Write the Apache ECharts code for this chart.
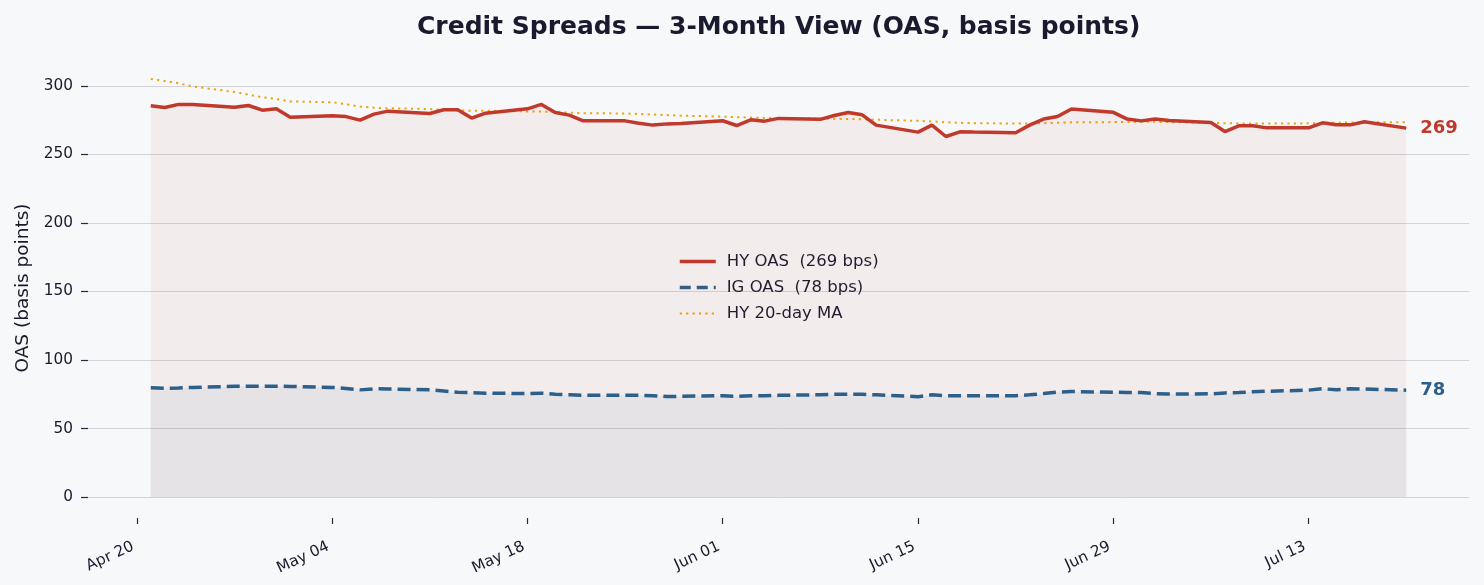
<!DOCTYPE html>
<html>
<head>
<meta charset="utf-8">
<title>Credit Spreads</title>
<script src="https://cdn.jsdelivr.net/npm/echarts@6/dist/echarts.min.js"></script>
<style>
  html, body { margin: 0; padding: 0; background: #f7f8fa; }
  #chart { width: 1484px; height: 585px; }
</style>
</head>
<body>
<div id="chart"></div>
<script>
// 交易日（工作日）
var dates = ['2026-04-21','2026-04-22','2026-04-23','2026-04-24','2026-04-27','2026-04-28','2026-04-29','2026-04-30','2026-05-01',
  '2026-05-04','2026-05-05','2026-05-06','2026-05-07','2026-05-08',
  '2026-05-11','2026-05-12','2026-05-13','2026-05-14','2026-05-15',
  '2026-05-18','2026-05-19','2026-05-20','2026-05-21','2026-05-22',
  '2026-05-25','2026-05-26','2026-05-27','2026-05-28','2026-05-29',
  '2026-06-01','2026-06-02','2026-06-03','2026-06-04','2026-06-05',
  '2026-06-08','2026-06-09','2026-06-10','2026-06-11','2026-06-12',
  '2026-06-15','2026-06-16','2026-06-17','2026-06-18','2026-06-19',
  '2026-06-22','2026-06-23','2026-06-24','2026-06-25','2026-06-26',
  '2026-06-29','2026-06-30','2026-07-01','2026-07-02','2026-07-03',
  '2026-07-06','2026-07-07','2026-07-08','2026-07-09','2026-07-10',
  '2026-07-13','2026-07-14','2026-07-15','2026-07-16','2026-07-17',
  '2026-07-20'];

// HY OAS
var hyOas = [285.4, 284.2, 286.4, 286.4, 284.4, 285.6, 282.2, 283.2, 277.1,
  278.1, 277.5, 274.9, 279.3, 281.5,
  279.8, 282.5, 282.5, 276.4, 280.0,
  283.2, 286.4, 280.5, 278.6, 274.4,
  274.4, 272.7, 271.3, 272.2, 272.4,
  274.5, 271.0, 275.2, 274.2, 276.2,
  275.5, 278.3, 280.5, 278.8, 271.3,
  266.2, 271.3, 263.0, 266.4, 266.2,
  265.7, 271.3, 275.7, 277.6, 283.0,
  280.6, 275.7, 274.4, 275.7, 274.7,
  273.2, 266.6, 270.8, 270.8, 269.3,
  269.3, 273.0, 271.5, 271.5, 273.7,
  269.1];

// IG OAS
var igOas = [79.8, 79.3, 79.6, 80.0, 80.8, 80.9, 80.9, 80.9, 80.7,
  80.0, 79.2, 78.2, 79.0, 78.9,
  78.2, 77.4, 76.5, 76.2, 75.8,
  75.5, 75.8, 75.0, 74.6, 74.2,
  74.2, 74.2, 74.0, 73.3, 73.5,
  74.0, 73.5, 74.0, 74.0, 74.2,
  74.6, 75.0, 75.0, 75.0, 74.6,
  73.2, 74.6, 74.0, 74.0, 74.0,
  74.0, 74.6, 75.5, 76.6, 77.0,
  76.5, 76.3, 76.3, 75.4, 75.2,
  75.3, 76.0, 76.2, 76.8, 77.2,
  78.0, 79.0, 78.3, 79.0, 78.8,
  78.0];

// HY 20日均线
var hyMa = [305.0, 303.5, 301.8, 299.5, 295.5, 293.5, 291.6, 290.3, 288.6,
  288.0, 286.5, 284.8, 284.0, 283.6,
  283.0, 282.4, 282.0, 281.8, 281.8,
  281.3, 281.2, 280.8, 280.4, 280.0,
  279.8, 279.4, 279.0, 278.6, 278.2,
  277.5, 277.1, 276.8, 276.5, 276.3,
  276.0, 275.9, 275.8, 275.6, 275.2,
  274.4, 274.0, 273.4, 273.0, 272.7,
  272.5, 272.5, 272.7, 273.0, 273.3,
  273.5, 273.6, 273.7, 273.7, 273.5,
  273.0, 272.7, 272.5, 272.4, 272.4,
  272.6, 272.9, 273.1, 273.2, 273.4,
  273.4];

// x轴刻度
var tickDates = ['2026-04-20','2026-05-04','2026-05-18','2026-06-01','2026-06-15','2026-06-29','2026-07-13'];
var tickLabels = ['Apr 20','May 04','May 18','Jun 01','Jun 15','Jun 29','Jul 13'];
var yTicks = [0, 50, 100, 150, 200, 250, 300];

var baseDay = Date.UTC(2026, 3, 20);
function dayOf(s) {
  var p = s.split('-');
  return Math.round((Date.UTC(+p[0], +p[1] - 1, +p[2]) - baseDay) / 86400000);
}
var xDays = dates.map(dayOf);
var tickDays = tickDates.map(dayOf);

function pairs(arr) {
  return arr.map(function(v, i) { return [xDays[i], v]; });
}

var hyName = 'HY OAS  (' + Math.round(hyOas[hyOas.length - 1]) + ' bps)';
var igName = 'IG OAS  (' + Math.round(igOas[igOas.length - 1]) + ' bps)';
var maName = 'HY 20-day MA';

var textColor = '#1a1a2e';
var font = 'DejaVu Sans';
var hyColor = '#c0392b';
var igColor = '#2c5f8a';
var maColor = '#f0a30a';

var chart = echarts.init(document.getElementById('chart'));
chart.setOption({
  backgroundColor: '#f7f8fa',
  animation: false,
  textStyle: { fontFamily: font },
  title: {
    text: 'Credit Spreads \u2014 3-Month View (OAS, basis points)',
    left: 417,
    top: 15,
    padding: 0,
    textStyle: { fontFamily: font, fontSize: 25, fontWeight: 'bold', color: textColor }
  },
  grid: { left: 88, right: 15, top: 58, bottom: 67 },
  legend: {
    orient: 'vertical',
    left: 678,
    top: 253,
    padding: 0,
    itemWidth: 36,
    itemHeight: 16,
    itemGap: 9,
    itemStyle: { opacity: 0 },
    data: [
      { name: hyName, lineStyle: { width: 3.5, color: hyColor } },
      { name: igName, lineStyle: { width: 3.5, color: igColor, type: [11, 6] } },
      { name: maName, lineStyle: { width: 2, color: maColor, type: [2.2, 4.2] } }
    ],
    textStyle: { fontFamily: font, fontSize: 16.5, color: textColor, padding: [0, 0, 0, 6] }
  },
  xAxis: {
    type: 'value',
    min: -3.5,
    max: 95.5,
    axisLine: { show: false, onZero: false },
    splitLine: { show: false },
    axisTick: { show: true, length: 6, customValues: tickDays, lineStyle: { color: '#2a2a3a', width: 1.2 } },
    axisLabel: {
      customValues: tickDays,
      rotate: 25,
      margin: 26,
      padding: [0, 4, 0, 0],
      fontFamily: font,
      fontSize: 15.3,
      color: textColor,
      formatter: function(v) {
        var k = tickDays.indexOf(v);
        return k >= 0 ? tickLabels[k] : '';
      }
    }
  },
  yAxis: {
    type: 'value',
    min: -15.25,
    max: 320.25,
    name: 'OAS (basis points)',
    nameLocation: 'middle',
    nameGap: 54,
    nameTextStyle: { fontFamily: font, fontSize: 18.5, color: textColor },
    axisLine: { show: false, onZero: false },
    axisTick: { show: true, length: 7, customValues: yTicks, lineStyle: { color: '#2a2a3a', width: 1.2 } },
    axisLabel: { customValues: yTicks, margin: 15, fontFamily: font, fontSize: 15.3, color: textColor },
    splitLine: { show: true, lineStyle: { color: '#d3d3db', width: 1 } }
  },
  series: [
    {
      name: hyName,
      type: 'line',
      data: pairs(hyOas),
      symbol: 'none',
      z: 4,
      lineStyle: { color: hyColor, width: 3.5 },
      itemStyle: { color: hyColor },
      areaStyle: { color: 'rgba(192,57,43,0.09)' },
      endLabel: {
        show: true,
        distance: 14,
        formatter: function(p) { return Math.round(p.value[1]); },
        fontFamily: font,
        fontSize: 18,
        fontWeight: 'bold',
        color: hyColor
      }
    },
    {
      name: igName,
      type: 'line',
      data: pairs(igOas),
      symbol: 'none',
      z: 5,
      lineStyle: { color: igColor, width: 3.5, type: [13, 6] },
      itemStyle: { color: igColor },
      areaStyle: { color: 'rgba(44,95,138,0.09)' },
      endLabel: {
        show: true,
        distance: 14,
        formatter: function(p) { return Math.round(p.value[1]); },
        fontFamily: font,
        fontSize: 18,
        fontWeight: 'bold',
        color: igColor
      }
    },
    {
      name: maName,
      type: 'line',
      data: pairs(hyMa),
      symbol: 'none',
      z: 3,
      lineStyle: { color: maColor, width: 2, type: [2.2, 4.2] },
      itemStyle: { color: maColor }
    }
  ]
});
</script>
</body>
</html>
